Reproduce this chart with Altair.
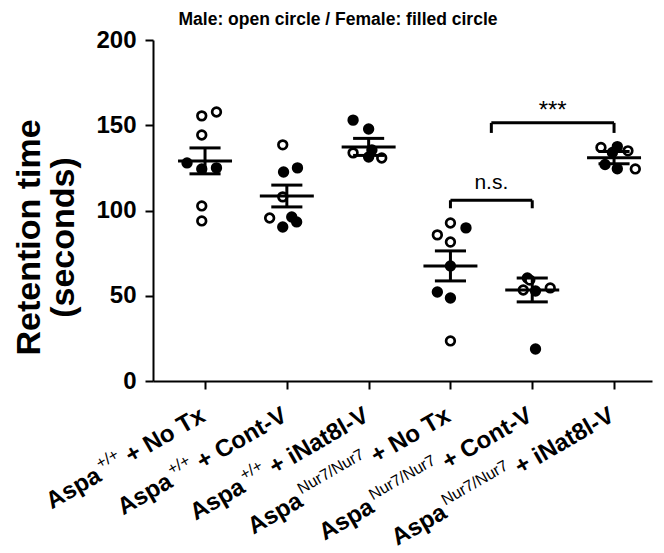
import altair as alt
import pandas as pd

FONT = "Liberation Sans"

# ---------------- data ----------------
group_pos = [1, 2, 3, 4, 5, 6]
label_main = ["Aspa", "Aspa", "Aspa", "Aspa", "Aspa", "Aspa"]
label_sup = ["+/+", "+/+", "+/+", "Nur7/Nur7", "Nur7/Nur7", "Nur7/Nur7"]
label_rest = ["+ No Tx", "+ Cont-V", "+ iNat8l-V", "+ No Tx", "+ Cont-V", "+ iNat8l-V"]

g1_values = [155.5, 157.8, 144.3, 127.9, 124.4, 125.0, 102.7, 93.9]
g1_sex = ["M", "M", "M", "F", "F", "F", "M", "M"]
g1_jitter = [-0.04, 0.14, -0.04, -0.22, -0.04, 0.14, -0.04, -0.04]

g2_values = [138.5, 122.6, 125.0, 108.0, 95.6, 90.3, 96.2, 93.3]
g2_sex = ["M", "F", "F", "M", "M", "F", "F", "F"]
g2_jitter = [-0.05, -0.04, 0.13, -0.05, -0.21, -0.05, 0.06, 0.12]

g3_values = [153.0, 147.8, 133.8, 131.4, 130.8, 135.5]
g3_sex = ["F", "F", "M", "F", "M", "F"]
g3_jitter = [-0.19, 0.0, -0.19, 0.0, 0.16, 0.04]

g4_values = [92.7, 89.8, 85.7, 81.5, 67.5, 52.2, 48.7, 23.5]
g4_sex = ["M", "F", "M", "M", "F", "F", "F", "M"]
g4_jitter = [0.0, 0.19, -0.16, 0.0, 0.0, -0.16, 0.0, 0.0]

g5_values = [60.4, 59.2, 53.4, 52.8, 54.6, 18.8]
g5_sex = ["F", "M", "M", "F", "M", "F"]
g5_jitter = [-0.06, -0.03, -0.11, 0.04, 0.22, 0.04]

g6_values = [137.0, 137.5, 134.0, 135.0, 127.0, 124.5, 124.4]
g6_sex = ["M", "F", "F", "M", "F", "F", "M"]
g6_jitter = [-0.16, 0.04, -0.02, 0.17, -0.11, 0.04, 0.26]

means = [129.1, 108.5, 137.3, 67.5, 53.4, 131.0]
sems = [7.6, 6.4, 5.0, 8.8, 7.0, 3.6]

bracket_x1 = [4.0, 4.5]
bracket_x2 = [5.0, 6.0]
bracket_y = [106.0, 151.4]
bracket_drop = [4.7, 5.9]
bracket_text = ["n.s.", "***"]
bracket_text_y = [112.5, 154.5]

title_text = "Male: open circle / Female: filled circle"
y_title = ["Retention time", "(seconds)"]
y_ticks = [0, 50, 100, 150, 200]

# ---------------- tables ----------------
groups = [
    (g1_values, g1_sex, g1_jitter), (g2_values, g2_sex, g2_jitter),
    (g3_values, g3_sex, g3_jitter), (g4_values, g4_sex, g4_jitter),
    (g5_values, g5_sex, g5_jitter), (g6_values, g6_sex, g6_jitter),
]
rows = []
for gi, (vals, sexes, jit) in enumerate(groups):
    for v, s, j in zip(vals, sexes, jit):
        rows.append({"x": group_pos[gi] + j, "value": v, "sex": s})
pts = pd.DataFrame(rows)

summ = pd.DataFrame({"pos": group_pos, "mean": means, "sem": sems})
summ["lo"] = summ["mean"] - summ["sem"]
summ["hi"] = summ["mean"] + summ["sem"]
summ["mx1"] = summ["pos"] - 0.33
summ["mx2"] = summ["pos"] + 0.33
summ["cx1"] = summ["pos"] - 0.19
summ["cx2"] = summ["pos"] + 0.19

br = pd.DataFrame({"x1": bracket_x1, "x2": bracket_x2, "y": bracket_y, "yd": bracket_drop})
br["ylo"] = br["y"] - br["yd"]
drops = pd.DataFrame({
    "x": bracket_x1 + bracket_x2,
    "y": list(br["y"]) * 2,
    "ylo": list(br["ylo"]) * 2,
})

# ---------------- scales / axes ----------------
W, H = 499, 341
x_scale = alt.Scale(domain=[0.364, 6.464], nice=False, zero=False)
y_scale = alt.Scale(domain=[0, 200], nice=False)
x_axis = alt.Axis(values=group_pos, labels=False, title=None, grid=False)
y_axis = alt.Axis(values=y_ticks, title=y_title, grid=False,
                  labelFontSize=24, labelFontWeight="bold", labelFont=FONT,
                  labelColor="black", labelPadding=9,
                  titleFontSize=34, titleFontWeight="bold", titleFont=FONT,
                  titleColor="black", titleAngle=270, titleAlign="center",
                  titleBaseline="alphabetic", titleX=-114, titleY=197,
                  titleLineHeight=34)


def X(f):
    return alt.X(f, type="quantitative", scale=x_scale, axis=x_axis, title=None)


def Y(f):
    return alt.Y(f, type="quantitative", scale=y_scale, axis=y_axis)


points = alt.Chart(pts).mark_point(
    shape="circle", filled=True, stroke="black", strokeWidth=2.7, size=75,
    opacity=1, fillOpacity=1
).encode(
    x=X("x"), y=Y("value"),
    fill=alt.Fill("sex:N", scale=alt.Scale(domain=["M", "F"], range=["white", "black"]), legend=None),
)

mean_rule = alt.Chart(summ).mark_rule(color="black", strokeWidth=3).encode(
    x=X("mx1"), x2="mx2", y=Y("mean"))
cap_hi = alt.Chart(summ).mark_rule(color="black", strokeWidth=3).encode(
    x=X("cx1"), x2="cx2", y=Y("hi"))
cap_lo = alt.Chart(summ).mark_rule(color="black", strokeWidth=3).encode(
    x=X("cx1"), x2="cx2", y=Y("lo"))
vert = alt.Chart(summ).mark_rule(color="black", strokeWidth=3).encode(
    x=X("pos"), y=Y("lo"), y2="hi")

br_h = alt.Chart(br).mark_rule(color="black", strokeWidth=3).encode(
    x=X("x1"), x2="x2", y=Y("y"))
br_v = alt.Chart(drops).mark_rule(color="black", strokeWidth=3).encode(
    x=X("x"), y=Y("ylo"), y2="y")

txt_df = pd.DataFrame({"x": [(a + b) / 2 for a, b in zip(bracket_x1, bracket_x2)],
                       "y": bracket_text_y, "t": bracket_text})
ns_text = alt.Chart(txt_df.iloc[[0]]).mark_text(
    font=FONT, fontSize=21, color="black", align="center", baseline="alphabetic"
).encode(x=X("x"), y=Y("y"), text="t:N")
star_text = alt.Chart(txt_df.iloc[[1]]).mark_text(
    font=FONT, fontSize=24, color="black", align="center", baseline="alphabetic"
).encode(x=X("x"), y=Y("y"), text="t:N")

title = alt.Chart(pd.DataFrame({"t": [title_text]})).mark_text(
    font=FONT, fontSize=17.5, fontWeight="bold", color="black",
    align="center", baseline="alphabetic"
).encode(x=alt.value(185), y=alt.value(-15), text="t:N")

# ---------------- rotated category labels with superscripts ----------------
BOLD_W = {' ': 278, '+': 584, '/': 278, '-': 333, '7': 556, '8': 556, 'A': 722,
          'C': 722, 'N': 722, 'T': 611, 'V': 667, 'a': 556, 'd': 611, 'i': 278,
          'l': 278, 'n': 611, 'o': 611, 'p': 611, 'r': 389, 's': 556, 't': 333,
          'u': 611, 'x': 556}
REG_W = {'+': 584, '/': 278, '7': 556, 'N': 722, 'u': 556, 'r': 333}
MAIN_FS, SUP_FS = 24, 16
ANGLE = 330
LABEL_Y = H + 40
BASE_DX = 2


def tw(s, table, fs):
    return sum(table.get(c, 556) for c in s) * fs / 1000.0


label_layers = []
for i in range(len(group_pos)):
    d = pd.DataFrame({"x": [group_pos[i]], "main": [label_main[i]],
                      "sup": [label_sup[i]], "rest": [label_rest[i]]})
    w_rest = tw(label_rest[i], BOLD_W, MAIN_FS)
    w_sup = tw(label_sup[i], REG_W, SUP_FS)
    gap_sp = 278 * MAIN_FS / 1000.0
    base = alt.Chart(d)
    common = dict(font=FONT, color="black", align="right", baseline="alphabetic", angle=ANGLE)
    rest_l = base.mark_text(fontSize=MAIN_FS, fontWeight="bold", dx=BASE_DX, dy=0, **common).encode(
        x=X("x"), y=alt.value(LABEL_Y), text="rest:N")
    sup_dx = BASE_DX - w_rest - gap_sp
    sup_l = base.mark_text(fontSize=SUP_FS, fontWeight="normal", dx=sup_dx, dy=-11, **common).encode(
        x=X("x"), y=alt.value(LABEL_Y), text="sup:N")
    main_dx = sup_dx - w_sup - 3
    main_l = base.mark_text(fontSize=MAIN_FS, fontWeight="bold", dx=main_dx, dy=0, **common).encode(
        x=X("x"), y=alt.value(LABEL_Y), text="main:N")
    label_layers += [rest_l, sup_l, main_l]

chart = alt.layer(
    points, mean_rule, cap_hi, cap_lo, vert, br_h, br_v, ns_text, star_text, title,
    *label_layers
).properties(
    width=W, height=H,
    autosize=alt.AutoSizeParams(type="none"),
    padding={"left": 145, "top": 32, "right": 4, "bottom": 172},
).configure_view(stroke=None).configure_axis(
    domainColor="black", domainWidth=2, tickColor="black", tickWidth=2, tickSize=8,
    grid=False
)

chart.save("out.html", embed_options={"renderer": "svg", "actions": False})
